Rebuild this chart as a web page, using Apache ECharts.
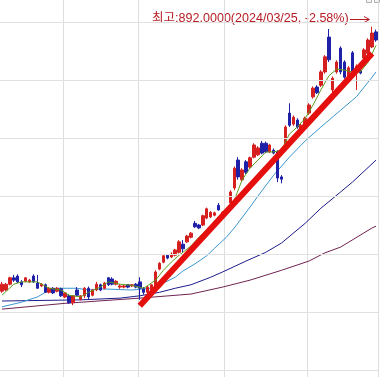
<!DOCTYPE html>
<html><head><meta charset="utf-8">
<script src="https://cdn.jsdelivr.net/npm/echarts@6/dist/echarts.min.js"></script>
<style>html,body{margin:0;padding:0;background:#fff}#c{width:381px;height:377px}</style>
</head><body><div id="c"></div>
<script>
// OHLC rows: [open, close, low, high]
const ohlc = [
[436,448,433,452],[438,448,436,450],[448,459,446,461],[459,455,452,464],[462,452,450,465],
[452,447,443,455],[453,459,452,460],[452,455,450,457],[462,452,450,465],[450,441,440,464],
[445,448,443,450],[447,434,433,449],[434,441,432,443],[441,433,431,443],[436,441,434,443],
[440,428,426,442],[426,433,424,434],[428,416,414,431],[416,428,412,429],[438,429,428,443],
[422,428,420,429],[428,441,424,443],[441,426,422,444],[429,438,427,440],[438,448,436,452],
[447,438,436,449],[441,450,439,452],[459,447,445,460],[457,448,446,460],[448,453,446,455],
[443,445,440,448],[443,445,441,447],[447,443,441,448],[445,447,443,448],[448,443,441,450],
[452,441,421,460],[440,434,430,443],[434,443,432,445],[438,447,436,448],[443,469,440,472],
[474,484,472,486],[486,497,484,498],[498,493,491,500],[495,500,493,503],[498,507,496,509],
[503,521,501,524],[517,509,503,524],[521,531,519,533],[529,536,527,538],[553,547,545,557],
[550,545,543,552],[550,566,548,568],[562,578,560,580],[564,572,562,574],[567,571,565,573],
[584,576,575,588],[569,572,567,574],[569,574,567,576],[588,607,584,610],[614,648,610,651],
[662,633,628,667],[628,645,624,648],[659,641,638,662],[650,666,647,668],[667,688,665,691],
[671,683,669,686],[691,674,672,695],[691,676,674,694],[676,688,674,690],[679,674,672,682],
[676,631,624,679],[633,629,622,636],[688,719,684,722],[743,722,719,760],[724,736,721,739],
[731,719,716,734],[714,722,712,725],[717,734,715,737],[743,757,740,760],[771,786,768,789],
[788,778,776,791],[791,814,788,817],[814,840,811,843],[874,835,831,888],[783,803,778,806],
[814,831,811,834],[855,814,810,858],[831,805,802,834],[800,821,797,824],[847,814,811,850],
[817,824,783,827],[817,812,810,820],[838,852,835,855],[846,869,843,872],[857,881,855,892],
[883,869,866,887]
];
// moving averages, sampled [index, value]
const ma5 = [[0,429],[3,448],[5,452],[9,452],[12,441],[15,438],[17,429],[20,426],[22,434],[25,443],[27,452],[30,448],[33,446],[36,441],[39,455],[41,472],[43,486],[45,498],[48,514],[50,529],[53,547],[55,564],[57,572],[59,593],[61,628],[63,648],[65,662],[67,676],[69,676],[71,679],[73,707],[75,719],[77,734],[79,757],[81,783],[83,807],[85,819],[87,817],[89,814],[91,814],[93,831],[95,860]];
const ma20 = [[0,409],[5,417],[9,426],[12,438],[14,441],[19,441],[22,438],[25,440],[33,438],[36,440],[38,441],[41,450],[44,460],[46,471],[49,483],[52,497],[54,510],[57,529],[59,545],[63,581],[66,609],[69,636],[73,667],[77,695],[81,719],[86,748],[90,771],[94,805],[95,814]];
const ma60 = [[0,419],[20,421],[30,424],[35,428],[40,434],[44,441],[48,447],[53,460],[56,469],[62,488],[67,503],[71,519],[77,553],[81,579],[86,607],[89,624],[95,662]];
const ma120 = [[0,405],[16,415],[35,424],[48,431],[56,443],[63,455],[71,472],[78,488],[82,502],[86,512],[94,545],[95,548]];
const trend = [[35,411],[94,846]];
const hLines = [300,400,500,600,700,800,900];
const monthStarts = [16,35,57,78];
const highText = '최고:892.0000(2024/03/25, -2.58%)';

const cats = ohlc.map((_, i) => i);
const chart = echarts.init(document.getElementById('c'));
const lineS = (data, color, z) => ({type:'line', data, showSymbol:false, symbol:'none', silent:true, z:z||3,
  lineStyle:{color, width:1}, itemStyle:{color}, animation:false});
chart.setOption({
  animation:false,
  grid:{left:0, right:3, top:0, bottom:0},
  xAxis:{type:'category', data:cats, boundaryGap:true,
    axisLine:{show:false}, axisTick:{show:false}, axisLabel:{show:false},
    splitLine:{show:true, interval:(i)=>monthStarts.indexOf(i)>=0, lineStyle:{color:'#dedede', width:1}}},
  yAxis:{type:'value', min:288, max:938, axisLine:{show:false}, axisTick:{show:false}, axisLabel:{show:false}, splitLine:{show:false}},
  series:[
    {type:'line', data:[], silent:true, z:0, markLine:{silent:true, symbol:'none', animation:false,
      label:{show:false}, lineStyle:{color:'#e0e0e0', width:1, type:'solid'},
      data: hLines.map(v=>({yAxis:v}))}},
    lineS(ma120, '#6e2350', 2),
    lineS(ma60, '#1c1c8a', 2),
    lineS(ma20, '#3b95cf', 2),
    lineS(ma5, '#5d9b1c', 4),
    {type:'candlestick', data:ohlc, barWidth:3, z:3, silent:true,
      itemStyle:{color:'#d61f1f', color0:'#1f20a8', borderColor:'#d61f1f', borderColor0:'#1f20a8', borderWidth:1}},
    {type:'line', data:trend, showSymbol:false, symbol:'none', silent:true, z:5,
      lineStyle:{color:'#e5100e', width:6, cap:'butt'}}
  ],
  graphic:[
    {type:'text', x:152, y:13, scaleX:1.045, style:{text:highText, fill:'#b51c24', font:'12px "Liberation Sans", "Noto Sans CJK KR", sans-serif'}},
    {type:'polyline', shape:{points:[[350,19.5],[369,19.5]]}, style:{stroke:'#b51c24', lineWidth:1, fill:null}},
    {type:'polyline', shape:{points:[[364,16.5],[369.5,19.5],[364,22.5]]}, style:{stroke:'#b51c24', lineWidth:1, fill:null}},
    {type:'rect', shape:{x:366.5, y:-1.5, width:5, height:4}, style:{stroke:'#b0b0b0', fill:'#f4f4f4', lineWidth:1}},
    {type:'rect', shape:{x:374.5, y:-1.5, width:5, height:4}, style:{stroke:'#b0b0b0', fill:'#f4f4f4', lineWidth:1}}
  ]
});
</script></body></html>
